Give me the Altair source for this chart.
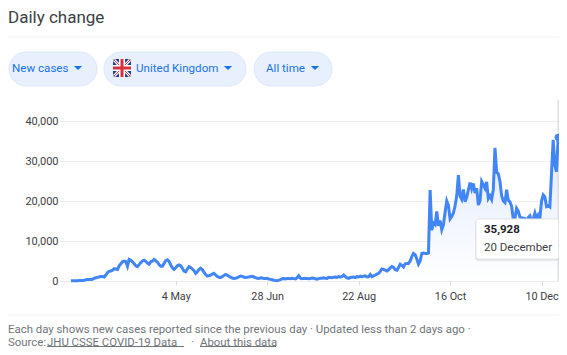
import altair as alt
import pandas as pd

mar = [40,50,80,60,50,110,100,150,200,300,400,350,400,450,700,800,900,1000,1100,1100,1000,1500,2100,2400,2500,2700,3100,3000,2900,3800]
apr = [4300,4800,5000,4900,3700,5400,5200,4800,4300,3800,3600,4100,4600,5000,5200,4900,4500,4200,4800,5000,5400,5100,4700,4100,3700,3700,4400,5100,5300,4900]
may = [4000,3300,2900,3300,3800,4000,3800,3200,2500,2300,3000,3600,3400,3000,2600,1900,2300,2900,3200,2800,2200,1600,1250,1350,1500,1700,1900,1500,1150,950,900]
jun = [1100,1400,1650,1500,1200,950,750,650,700,850,1050,1250,1150,1000,900,950,1000,1100,1150,1000,850,700,650,800,750,650,600,650,500,400]
jul = [300,200,100,50,200,350,550,600,500,600,650,550,700,600,500,800,1300,700,550,650,700,600,550,600,750,700,550,450,600,700,700]
aug = [800,700,650,900,850,800,950,1000,900,1100,1000,1100,1500,1100,800,650,900,950,1000,850,1100,1000,1200,1100,1200,1300,1000,1100,1650,1100,1300]
sep = [1500,1700,1900,2400,3000,2900,2700,2500,2800,3300,3600,3400,2800,2700,3400,4200,3900,3500,4300,4400,4400,5000,6100,6900,6600,5500,4200,5000,6900,7000]
oct_ = [6900,6900,7000,22750,12700,14500,14100,17400,13800,15100,12800,14000,17200,20000,18900,15500,16100,17000,18800,21300,26500,21200,20400,22900,19800,20900,22800,24600,23000,24400,22000]
nov = [23200,19000,20000,24900,24100,23200,24800,20600,21300,20400,22900,33300,27200,26800,24900,21300,20000,19600,22800,20200,19800,18700,15500,15700,18200,17500,16000,15800,15700,15600]
dec = [14000,15900,16300,14900,15500,17000,15500,16500,15700,20000,21500,21000,18600,18800,18500,27000,35300,29000,27300,35928]
values = mar + apr + may + jun + jul + aug + sep + oct_ + nov + dec
dates = pd.date_range("2020-03-02", "2020-12-20")
assert len(values) == len(dates), (len(values), len(dates))

x_ticks = ["2020-05-04", "2020-06-28", "2020-08-22", "2020-10-16", "2020-12-10"]
y_ticks = [0, 10000, 20000, 30000, 40000]
last_date = "2020-12-20"
last_value = 35928
FONT = "Roboto"
BLUE = "#4285f4"
LINK = "#1a73e8"
GREY = "#70757a"

df = pd.DataFrame({"date": dates, "value": values})
one = alt.Data(values=[{"a": 1}])

x_scale = alt.Scale(domain=["2020-02-24T10:00:00", "2020-12-20T12:00:00"])
y_scale = alt.Scale(domain=[0, 45250], nice=False)

X0, Y0 = 60, 100  # page position of the plot origin


def box(x1, x2, y1, y2, **kw):
    return alt.Chart(one).mark_rect(**kw).encode(
        x=alt.value(x1 - X0), x2=alt.value(x2 - X0),
        y=alt.value(y1 - Y0), y2=alt.value(y2 - Y0))


def seg(x1, x2, y1, y2, **kw):
    return alt.Chart(one).mark_rule(**kw).encode(
        x=alt.value(x1 - X0), x2=alt.value(x2 - X0),
        y=alt.value(y1 - Y0), y2=alt.value(y2 - Y0))


def label(s, x, y, size=12, color=GREY, weight="normal", font=FONT):
    return alt.Chart(one).mark_text(
        text=s, align="left", baseline="middle", fontSize=size,
        color=color, fontWeight=weight, font=font
    ).encode(x=alt.value(x - X0), y=alt.value(y - Y0))


def caret(x, y):
    return alt.Chart(one).mark_point(
        shape="M-1,-0.5L1,-0.5L0,0.5Z", filled=True, color=LINK, size=70, opacity=1
    ).encode(x=alt.value(x - X0), y=alt.value(y - Y0))


base = alt.Chart(alt.Data(values=df.assign(date=df.date.dt.strftime("%Y-%m-%d")).to_dict("records")))
x_enc = alt.X("date:T", scale=x_scale, title=None, axis=alt.Axis(
    values=x_ticks, format="%-d %b", labelFont=FONT, labelFontSize=10.8, labelColor="#3c4043",
    domain=False, grid=False, ticks=True, tickSize=4, tickColor="#dadce0", labelPadding=5,
    labelFlush=False, labelOverlap=False))
y_enc = alt.Y("value:Q", scale=y_scale, title=None, axis=alt.Axis(
    values=y_ticks, format=",d", labelFont=FONT, labelFontSize=11, labelColor="#3c4043",
    domain=False, ticks=False, grid=True, gridColor="#eeeeee", labelPadding=2))

area = base.mark_area(
    color=alt.Gradient(gradient="linear", x1=0, x2=0, y1=0, y2=1, stops=[
        alt.GradientStop(color="#dfe9fd", offset=0),
        alt.GradientStop(color="#ffffff", offset=1)])
).encode(x=x_enc, y=y_enc)
line = base.mark_line(color=BLUE, strokeWidth=3, interpolate="linear").encode(x=x_enc, y=y_enc)

last = alt.Chart(alt.Data(values=[{"date": last_date, "value": last_value}]))
focus = last.mark_rule(color="#cfd1d4", strokeWidth=1).encode(x=alt.X("date:T", scale=x_scale))
dot = last.mark_circle(color=BLUE, size=50, opacity=1).encode(
    x=alt.X("date:T", scale=x_scale), y=alt.Y("value:Q", scale=y_scale))

pill = dict(fill="#e8f0fe", stroke="#dde8fb", strokeWidth=1, cornerRadius=17)
decor = [
    label("Daily change", 8, 18, size=17, color="#3c4043"),
    seg(8, 559, 37, 37, color="#f1f3f4", strokeWidth=1),
    box(9, 97, 52, 86, **pill),
    box(104, 246, 52, 86, **pill),
    box(254, 332, 52, 86, **pill),
    label("New cases", 12, 69, size=11.6, color=LINK),
    label("United Kingdom", 136, 69, size=11.6, color=LINK),
    label("All time", 266, 69, size=11.6, color=LINK),
    caret(78, 68), caret(228, 68), caret(315, 68),
    box(113, 131, 59, 77, fill="#1f3f8f", cornerRadius=2),
    seg(114, 130, 60, 76, color="#ffffff", strokeWidth=3),
    seg(114, 130, 76, 60, color="#ffffff", strokeWidth=3),
    seg(114, 130, 60, 76, color="#d8303f", strokeWidth=1),
    seg(114, 130, 76, 60, color="#d8303f", strokeWidth=1),
    box(113, 131, 65, 71, fill="#ffffff"),
    box(119, 125, 59, 77, fill="#ffffff"),
    box(113, 131, 66.5, 69.5, fill="#d8303f"),
    box(120.5, 123.5, 59, 77, fill="#d8303f"),
    seg(8, 559, 315, 315, color="#f1f3f4", strokeWidth=1),
    label("Each day shows new cases reported since the previous day · Updated less than 2 days ago  ·", 8, 330, size=11.4),
    label("Source:", 8, 342.5, size=11.4),
    label("JHU CSSE COVID-19 Data", 47, 342.5, size=11.4),
    seg(47, 184, 346.5, 346.5, color=GREY, strokeWidth=1),
    label("·", 191, 342.5, size=11.4),
    label("About this data", 200, 342.5, size=11.4),
    seg(200, 276, 346.5, 346.5, color=GREY, strokeWidth=1),
]
tooltip = [
    box(475, 559, 220, 261, fill="#000000", opacity=0.08, cornerRadius=3),
    box(476, 558.5, 219, 259, fill="#ffffff", stroke="#e3e4e6", strokeWidth=1, cornerRadius=2),
    label("35,928", 484, 230, size=11.5, color="#202124", weight="bold"),
    label("20 December", 484, 248, size=11.5, color="#3c4043"),
]

chart = alt.layer(area, focus, line, dot, *decor, *tooltip).properties(
    width=499, height=181,
    padding={"left": 52, "top": 92, "right": 0, "bottom": 66},
    autosize=alt.AutoSizeParams(type="none"),
    background="#ffffff",
).configure_view(stroke=None)

chart.save("out.html", embed_options={"renderer": "svg", "actions": False})
